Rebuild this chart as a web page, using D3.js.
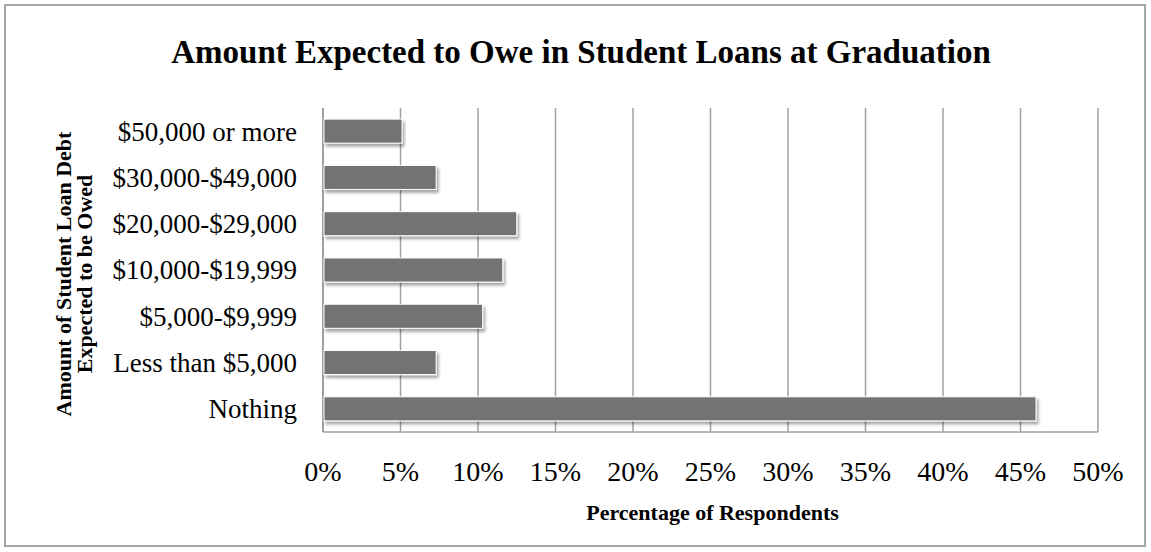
<!DOCTYPE html>
<html>
<head>
<meta charset="utf-8">
<script src="https://cdn.jsdelivr.net/npm/d3@7"></script>
<style>
  body { margin: 0; background: #fff; }
  text { font-family: "Liberation Serif", "DejaVu Serif", serif; fill: #000; }
</style>
</head>
<body>
<svg id="chart" width="1151" height="552"></svg>
<script>
// categories top to bottom, values in percent
var categories = ["$50,000 or more", "$30,000-$49,000", "$20,000-$29,000", "$10,000-$19,999",
                  "$5,000-$9,999", "Less than $5,000", "Nothing"];
var values = [5.1, 7.3, 12.5, 11.6, 10.3, 7.3, 46.0];
var xTicks = [0, 5, 10, 15, 20, 25, 30, 35, 40, 45, 50];

var data = categories.map(function(c, i) { return {cat: c, value: values[i]}; });

var svg = d3.select("#chart"),
    margin = {top: 108, right: 53, bottom: 120, left: 323},
    width = 1151 - margin.left - margin.right,
    height = 552 - margin.top - margin.bottom;

// shadow under the bars
var defs = svg.append("defs");
defs.append("filter")
    .attr("id", "shadow")
    .attr("x", "-5%").attr("y", "-30%").attr("width", "110%").attr("height", "170%")
  .append("feDropShadow")
    .attr("dx", 2).attr("dy", 3)
    .attr("stdDeviation", 1.8)
    .attr("flood-color", "#000")
    .attr("flood-opacity", 0.35);

// outer frame
svg.append("rect")
    .attr("x", 5).attr("y", 5)
    .attr("width", 1140).attr("height", 541)
    .attr("fill", "#fff")
    .attr("stroke", "#a6a6a6")
    .attr("stroke-width", 2);

var g = svg.append("g").attr("transform", "translate(" + margin.left + "," + margin.top + ")");

var x = d3.scaleLinear().domain([0, 50]).range([0, width]);
var y = d3.scaleBand()
    .domain(categories)
    .range([0, height])
    .paddingInner(0.48)
    .paddingOuter(0.24);

// vertical gridlines
g.append("g")
    .selectAll("line")
    .data(xTicks.slice(1))
    .enter().append("line")
    .attr("x1", function(d) { return x(d); })
    .attr("x2", function(d) { return x(d); })
    .attr("y1", 0)
    .attr("y2", height)
    .attr("stroke", "#a0a0a0")
    .attr("stroke-width", 1.5);

// bottom border and left axis line
g.append("line")
    .attr("x1", 0).attr("x2", width)
    .attr("y1", height).attr("y2", height)
    .attr("stroke", "#a0a0a0").attr("stroke-width", 1.5);
g.append("line")
    .attr("x1", 0).attr("x2", 0)
    .attr("y1", 0).attr("y2", height)
    .attr("stroke", "#a0a0a0").attr("stroke-width", 2);

// bars
g.append("g")
    .selectAll("rect")
    .data(data)
    .enter().append("rect")
    .attr("x", 1)
    .attr("y", function(d) { return y(d.cat); })
    .attr("width", function(d) { return x(d.value) - 1; })
    .attr("height", y.bandwidth())
    .attr("fill", "#737373")
    .attr("stroke", "#fff")
    .attr("stroke-width", 1)
    .attr("filter", "url(#shadow)");

// category labels
g.append("g")
    .selectAll("text")
    .data(categories)
    .enter().append("text")
    .attr("x", -26)
    .attr("y", function(d) { return y(d) + y.bandwidth() / 2; })
    .attr("dy", "0.35em")
    .attr("text-anchor", "end")
    .attr("font-size", 27)
    .text(function(d) { return d; });

// x tick labels
g.append("g")
    .selectAll("text")
    .data(xTicks)
    .enter().append("text")
    .attr("x", function(d) { return x(d); })
    .attr("y", height + 49)
    .attr("text-anchor", "middle")
    .attr("font-size", 28)
    .text(function(d) { return d + "%"; });

// axis titles
g.append("text")
    .attr("x", width / 2 + 2)
    .attr("y", height + 88)
    .attr("text-anchor", "middle")
    .attr("font-size", 22)
    .attr("font-weight", "bold")
    .text("Percentage of Respondents");

var yTitle = svg.append("text")
    .attr("transform", "translate(71," + (margin.top + height / 2 + 4) + ") rotate(-90)")
    .attr("text-anchor", "middle")
    .attr("font-size", 22)
    .attr("font-weight", "bold");
yTitle.append("tspan").attr("x", 0).attr("dy", 0).text("Amount of Student Loan Debt");
yTitle.append("tspan").attr("x", 0).attr("dy", 21).text("Expected to be Owed");

// chart title
svg.append("text")
    .attr("x", 581)
    .attr("y", 63)
    .attr("text-anchor", "middle")
    .attr("font-size", 33)
    .attr("font-weight", "bold")
    .text("Amount Expected to Owe in Student Loans at Graduation");
</script>
</body>
</html>
